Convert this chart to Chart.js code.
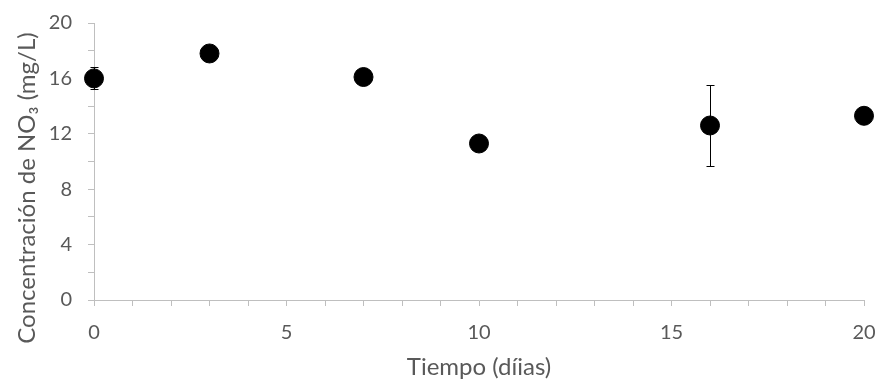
<!DOCTYPE html>
<html>
<head>
<meta charset="utf-8">
<style>
  html, body { margin: 0; padding: 0; background: #ffffff; }
  #box { width: 877px; height: 383px; }
</style>
</head>
<body>
<div id="box"><canvas id="myChart"></canvas></div>

<script src="https://cdn.jsdelivr.net/npm/chart.js/dist/chart.umd.min.js"></script>
<script>
// data
const days = [0, 3, 7, 10, 16, 20];
const nitrate = [16.0, 17.8, 16.1, 11.3, 12.6, 13.3];
const nitrateErr = [0.8, 0, 0, 0, 2.9, 0];

const xTicksShown = [0, 5, 10, 15, 20];
const yTicksShown = [0, 4, 8, 12, 16, 20];
const yTitle = 'Concentración de NO\u2083 (mg/L)';

const axisGrey = '#bfbfbf';
const textGrey = '#595959';
const fontFam = "Lato, sans-serif";

// draws the vertical error bars with caps
const errorBars = {
  id: 'errorBars',
  afterDatasetsDraw(chart) {
    const { ctx, scales: { x, y } } = chart;
    ctx.save();
    ctx.strokeStyle = '#000000';
    ctx.lineWidth = 1;
    days.forEach((d, i) => {
      const e = nitrateErr[i];
      if (!e) return;
      const px = Math.round(x.getPixelForValue(d)) + 0.5;
      const top = Math.round(y.getPixelForValue(nitrate[i] + e)) + 0.5;
      const bot = Math.round(y.getPixelForValue(nitrate[i] - e)) + 0.5;
      ctx.beginPath();
      ctx.moveTo(px, top); ctx.lineTo(px, bot);
      ctx.moveTo(px - 4, top); ctx.lineTo(px + 4, top);
      ctx.moveTo(px - 4, bot); ctx.lineTo(px + 4, bot);
      ctx.stroke();
    });
    ctx.restore();
  }
};

// y title sits a bit lower than the plot centre, like the original
const sideTitle = {
  id: 'sideTitle',
  afterDraw(chart) {
    const { ctx, chartArea } = chart;
    ctx.save();
    ctx.translate(27, chartArea.bottom - 112);
    ctx.rotate(-Math.PI / 2);
    ctx.fillStyle = textGrey;
    ctx.font = '24px ' + fontFam;
    ctx.textAlign = 'center';
    ctx.textBaseline = 'middle';
    ctx.fillText(yTitle, 0, 0);
    ctx.restore();
  }
};

const data = {
  datasets: [{
    data: days.map((d, i) => ({ x: d, y: nitrate[i] })),
    backgroundColor: '#000000',
    borderColor: '#000000',
    pointRadius: 9.5,
    pointHoverRadius: 9.5,
    clip: false
  }]
};

const config = {
  type: 'scatter',
  data,
  options: {
    responsive: true,
    maintainAspectRatio: false,
    animation: false,
    layout: { autoPadding: false, padding: { top: 23, right: 13, left: 0, bottom: 0 } },
    plugins: {
      legend: { display: false },
      tooltip: { enabled: false }
    },
    scales: {
      x: {
        type: 'linear',
        min: 0,
        max: 20,
        afterFit: s => { s.height = 83; s.paddingLeft = 0; s.paddingRight = 0; },
        border: { color: axisGrey, width: 1 },
        grid: { display: true, drawOnChartArea: false, color: axisGrey, tickLength: 6 },
        ticks: {
          stepSize: 1,
          autoSkip: false,
          maxRotation: 0,
          color: textGrey,
          font: { family: fontFam, size: 20 },
          padding: 15,
          callback: v => xTicksShown.includes(v) ? String(v) : ''
        },
        title: {
          display: true,
          text: 'Tiempo (díias)',
          color: textGrey,
          font: { family: fontFam, size: 24 },
          padding: { top: 0, bottom: 1 }
        }
      },
      y: {
        min: 0,
        max: 20,
        afterFit: s => { s.width = 94; s.paddingTop = 0; s.paddingBottom = 0; },
        border: { color: axisGrey, width: 1 },
        grid: { display: true, drawOnChartArea: false, color: axisGrey, tickLength: 6 },
        ticks: {
          stepSize: 2,
          autoSkip: false,
          color: textGrey,
          font: { family: fontFam, size: 20 },
          padding: 16,
          callback: v => yTicksShown.includes(v) ? String(v) : ''
        },
        title: { display: false }
      }
    }
  },
  plugins: [errorBars, sideTitle]
};

const myChart = new Chart(document.getElementById('myChart'), config);
</script>
</body>
</html>
